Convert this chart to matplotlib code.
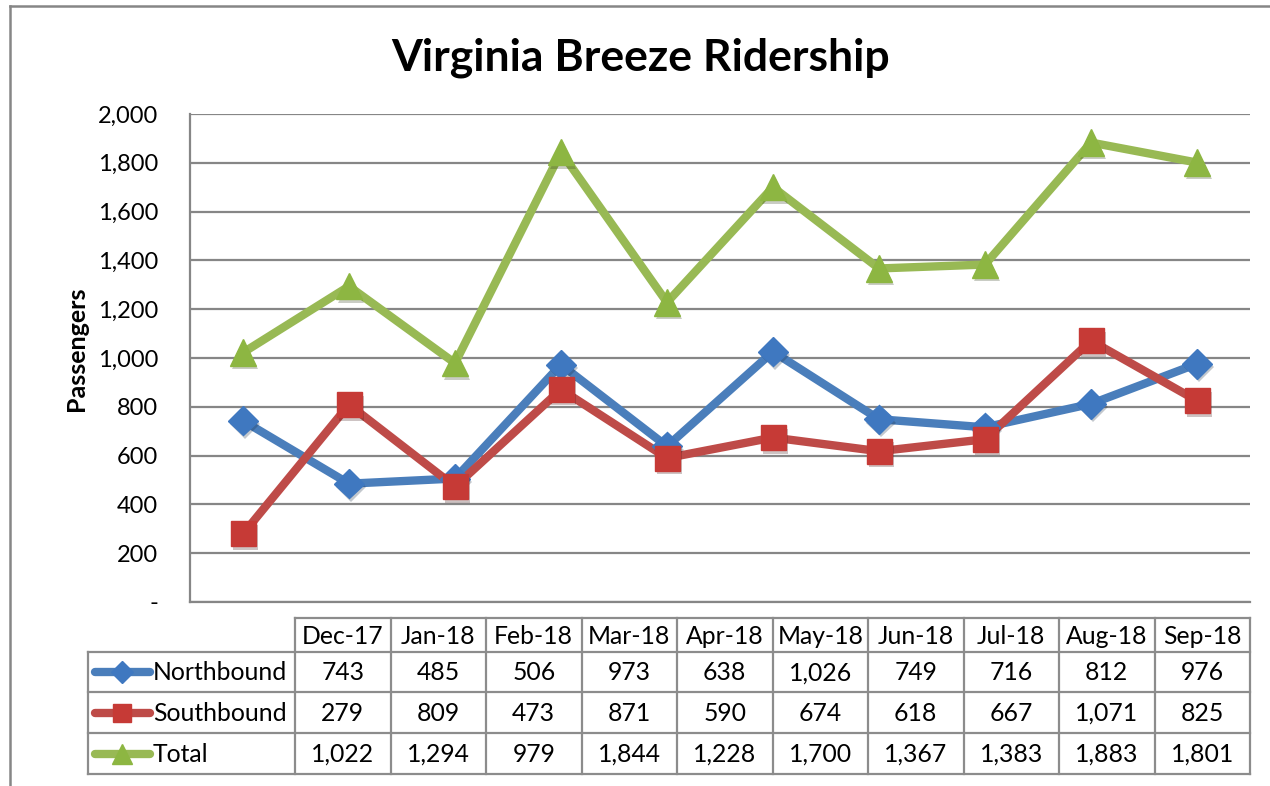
import numpy as np
import matplotlib
matplotlib.use("Agg")
import matplotlib.pyplot as plt
import matplotlib.patheffects as pe
from matplotlib.ticker import FuncFormatter

plt.rcParams['font.family'] = ['Lato', 'DejaVu Sans']

months = ['Dec-17', 'Jan-18', 'Feb-18', 'Mar-18', 'Apr-18',
          'May-18', 'Jun-18', 'Jul-18', 'Aug-18', 'Sep-18']
northbound = [743, 485, 506, 973, 638, 1026, 749, 716, 812, 976]
southbound = [279, 809, 473, 871, 590, 674, 618, 667, 1071, 825]
total = [1022, 1294, 979, 1844, 1228, 1700, 1367, 1383, 1883, 1801]

series = [
    ('Northbound', northbound, '#4A7EBB', '#3F78C0', 'D', 15),
    ('Southbound', southbound, '#BE4B48', '#C63A36', 's', 18),
    ('Total', total, '#98B954', '#8DB642', '^', 19),
]

W, H = 1270, 786
fig = plt.figure(figsize=(W / 100, H / 100), dpi=100)

# plot area in pixel coords of the reference
px_l, px_r, px_t, px_b = 190, 1250, 114, 602
ax = fig.add_axes([px_l / W, 1 - px_b / H, (px_r - px_l) / W, (px_b - px_t) / H])

x = np.arange(len(months))
shadow = [pe.SimplePatchShadow(offset=(1.5, -2.5), alpha=0.25), pe.Normal()]
for name, vals, lc, mc, mk, ms in series:
    ax.plot(x, vals, color=lc, lw=6, solid_joinstyle='miter', zorder=3)
    ax.plot(x, vals, ls='none', marker=mk, ms=ms, mfc=mc, mec=mc,
            zorder=4, path_effects=shadow)

ax.set_xlim(-0.5, len(months) - 0.5)
ax.set_ylim(0, 2000)
ax.set_yticks(np.arange(0, 2001, 200))
ax.yaxis.set_major_formatter(FuncFormatter(lambda v, p: '-' if v == 0 else f'{int(v):,}'))
ax.tick_params(axis='y', length=0, pad=23, labelsize=17)
ax.tick_params(axis='x', length=0, labelbottom=False)
ax.grid(axis='y', color='#868686', lw=1.6)
ax.set_axisbelow(True)
for s in ['top', 'right']:
    ax.spines[s].set_visible(False)
for s in ['left', 'bottom']:
    ax.spines[s].set_color('#868686')
    ax.spines[s].set_linewidth(1.6)
ax.set_ylabel('Passengers', fontsize=18, fontweight='bold')
ax.yaxis.set_label_coords(-0.096, 0.518)

# overlay in pixel coordinates for title, border and data table
ov = fig.add_axes([0, 0, 1, 1], zorder=-1)
ov.set_xlim(0, W)
ov.set_ylim(H, 0)
ov.axis('off')
ov2 = fig.add_axes([0, 0, 1, 1], zorder=5)
ov2.set_xlim(0, W)
ov2.set_ylim(H, 0)
ov2.axis('off')
ov2.patch.set_alpha(0)

gray = '#868686'
ov.plot([10, 10], [6, H], color=gray, lw=1.8)
ov.plot([10, W], [6, 6], color=gray, lw=1.8)

ov2.text(641, 58, 'Virginia Breeze Ridership', ha='center', va='center',
         fontsize=32, fontweight='bold')

col_l, col_r = 295, 1250
col_edges = np.linspace(col_l, col_r, len(months) + 1)
row_edges = [618, 652, 692, 733, 774]
head_l = 88
tcol = '#8c8c8c'
lw_t = 1.6

# header row
ov2.plot([col_l, col_r], [row_edges[0]] * 2, color=tcol, lw=lw_t)
for yy in row_edges[1:]:
    ov2.plot([head_l, col_r], [yy] * 2, color=tcol, lw=lw_t)
for xx in col_edges:
    ov2.plot([xx, xx], [row_edges[0], row_edges[-1]], color=tcol, lw=lw_t)
ov2.plot([head_l, head_l], [row_edges[1], row_edges[-1]], color=tcol, lw=lw_t)

fs_t = 17.8
for i, m in enumerate(months):
    cx = (col_edges[i] + col_edges[i + 1]) / 2
    ov2.text(cx, (row_edges[0] + row_edges[1]) / 2 + 1, m, ha='center', va='center', fontsize=fs_t)

for r, (name, vals, lc, mc, mk, ms) in enumerate(series):
    cy = (row_edges[r + 1] + row_edges[r + 2]) / 2
    ov2.plot([95, 150], [cy, cy], color=lc, lw=6, solid_capstyle='round')
    ov2.plot([122], [cy], ls='none', marker=mk, ms=ms * 0.75, mfc=mc, mec=mc)
    ov2.text(153, cy + 1, name, ha='left', va='center', fontsize=fs_t)
    for i, v in enumerate(vals):
        cx = (col_edges[i] + col_edges[i + 1]) / 2
        ov2.text(cx, cy + 1, f'{v:,}', ha='center', va='center', fontsize=fs_t)

fig.savefig('out.png', dpi=100)
